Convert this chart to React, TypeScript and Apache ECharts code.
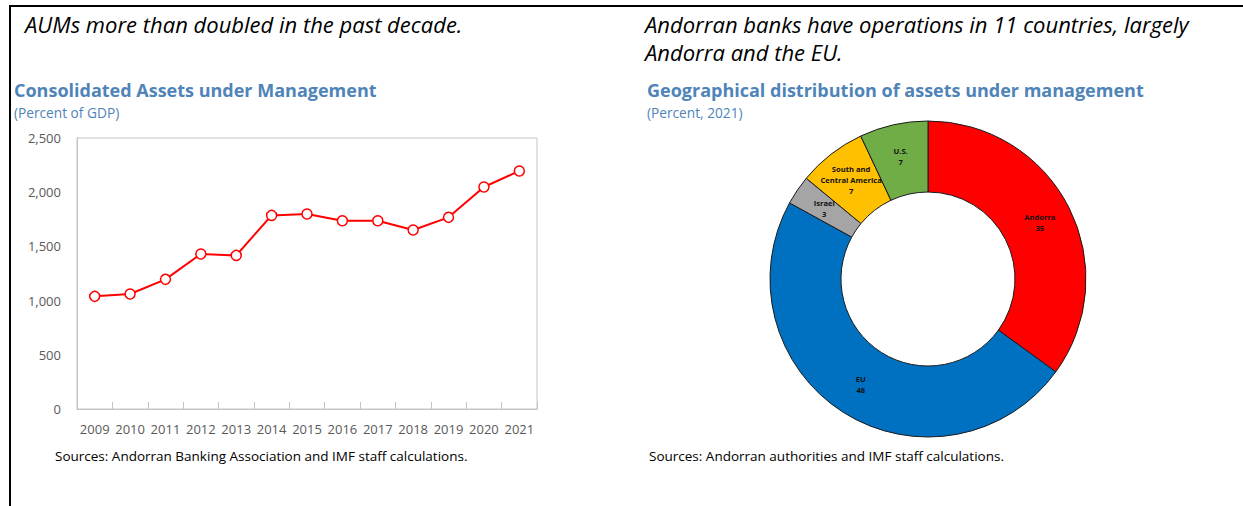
import React, { useEffect, useRef } from "react";
import * as echarts from "echarts";

const years = ["2009", "2010", "2011", "2012", "2013", "2014", "2015", "2016", "2017", "2018", "2019", "2020", "2021"];
const aumValues = [1039, 1061, 1196, 1430, 1417, 1786, 1799, 1737, 1737, 1651, 1768, 2048, 2196];
const yTicks = { min: 0, max: 2500, interval: 500 };

const regions = ["Andorra", "EU", "Israel", "South and Central America", "U.S."];
const regionLabels = ["Andorra", "EU", "Israel", "South and\nCentral America", "U.S."];
const regionShares = [35, 48, 3, 7, 7];
const regionColors = ["#FF0000", "#0070C0", "#A5A5A5", "#FFC000", "#70AD47"];

const FONT = "'Open Sans', 'Noto Sans', sans-serif";
const TITLE_COLOR = "#4f84b8";

export default function App() {
  const ref = useRef<HTMLDivElement>(null);
  useEffect(() => {
    if (!ref.current) return;
    const chart = echarts.init(ref.current, undefined, { renderer: "svg" });
    chart.setOption({
      animation: false,
      title: [
        {
          text: "Consolidated Assets under Management",
          subtext: "(Percent of GDP)",
          left: 14,
          top: 81,
          padding: 0,
          itemGap: 6,
          textStyle: { fontFamily: FONT, fontSize: 18, fontWeight: "bold", color: TITLE_COLOR },
          subtextStyle: { fontFamily: FONT, fontSize: 13.7, color: TITLE_COLOR },
        },
        {
          text: "Geographical distribution of assets under management",
          subtext: "(Percent, 2021)",
          left: 647,
          top: 81,
          padding: 0,
          itemGap: 6,
          textStyle: { fontFamily: FONT, fontSize: 18, fontWeight: "bold", color: TITLE_COLOR },
          subtextStyle: { fontFamily: FONT, fontSize: 13.7, color: TITLE_COLOR },
        },
      ],
      grid: {
        left: 77,
        right: 706,
        top: 138,
        bottom: 97,
        show: true,
        borderColor: "#c4c4c4",
        borderWidth: 1,
      },
      xAxis: {
        type: "category",
        data: years,
        boundaryGap: true,
        axisLine: { show: true, lineStyle: { color: "#c4c4c4" } },
        axisTick: { show: true, inside: true, length: 7, lineStyle: { color: "#c4c4c4" } },
        axisLabel: { fontFamily: FONT, fontSize: 13, color: "#595959", margin: 13, interval: 0 },
      },
      yAxis: {
        type: "value",
        min: yTicks.min,
        max: yTicks.max,
        interval: yTicks.interval,
        axisLine: { show: true, lineStyle: { color: "#c4c4c4" } },
        axisTick: { show: false },
        splitLine: { show: false },
        axisLabel: {
          fontFamily: FONT,
          fontSize: 13,
          color: "#595959",
          margin: 16,
          formatter: (v: number) => v.toLocaleString("en-US"),
        },
      },
      series: [
        {
          type: "line",
          data: aumValues,
          symbol: "circle",
          symbolSize: 10,
          lineStyle: { color: "#FF0000", width: 2 },
          itemStyle: { color: "#ffffff", borderColor: "#FF0000", borderWidth: 1.5 },
          z: 3,
        },
        {
          type: "pie",
          center: [928, 279],
          radius: [87, 158],
          startAngle: 90,
          clockwise: true,
          avoidLabelOverlap: false,
          data: regions.map((name, i) => ({
            name,
            value: regionShares[i],
            itemStyle: { color: regionColors[i] },
            label: { formatter: `${regionLabels[i]}\n${regionShares[i]}` },
          })),
          itemStyle: { borderColor: "#1a1a1a", borderWidth: 1 },
          label: {
            show: true,
            position: "inside",
            fontFamily: FONT,
            fontSize: 7.6,
            fontWeight: "bold",
            color: "#111",
            lineHeight: 11,
            overflow: "none",
          },
          labelLine: { show: false },
          emphasis: { disabled: true },
        },
      ],
      graphic: [
        { type: "line", shape: { x1: 10, y1: 5, x2: 10, y2: 506 }, style: { stroke: "#000", lineWidth: 2 } },
        { type: "line", shape: { x1: 9, y1: 6, x2: 1243, y2: 6 }, style: { stroke: "#000", lineWidth: 2 } },
        {
          type: "text",
          x: 25,
          y: 24,
          style: {
            text: "AUMs more than doubled in the past decade.",
            fontFamily: FONT,
            fontStyle: "italic",
            fontSize: 22,
            fill: "#000",
            verticalAlign: "middle",
          },
        },
        {
          type: "text",
          x: 645,
          y: 24,
          style: {
            text: "Andorran banks have operations in 11 countries, largely",
            fontFamily: FONT,
            fontStyle: "italic",
            fontSize: 22,
            fill: "#000",
            verticalAlign: "middle",
          },
        },
        {
          type: "text",
          x: 645,
          y: 52,
          style: {
            text: "Andorra and the EU.",
            fontFamily: FONT,
            fontStyle: "italic",
            fontSize: 22,
            fill: "#000",
            verticalAlign: "middle",
          },
        },
        {
          type: "text",
          x: 55,
          y: 456,
          style: {
            text: "Sources: Andorran Banking Association and IMF staff calculations.",
            fontFamily: FONT,
            fontSize: 13.5,
            fill: "#000",
            verticalAlign: "middle",
          },
        },
        {
          type: "text",
          x: 649,
          y: 456,
          style: {
            text: "Sources: Andorran authorities and IMF staff calculations.",
            fontFamily: FONT,
            fontSize: 13.5,
            fill: "#000",
            verticalAlign: "middle",
          },
        },
      ],
    });
    return () => chart.dispose();
  }, []);
  return (
    <div
      ref={ref}
      style={{ position: "absolute", left: 0, top: 0, width: 1243, height: 506, background: "#fff" }}
    />
  );
}
